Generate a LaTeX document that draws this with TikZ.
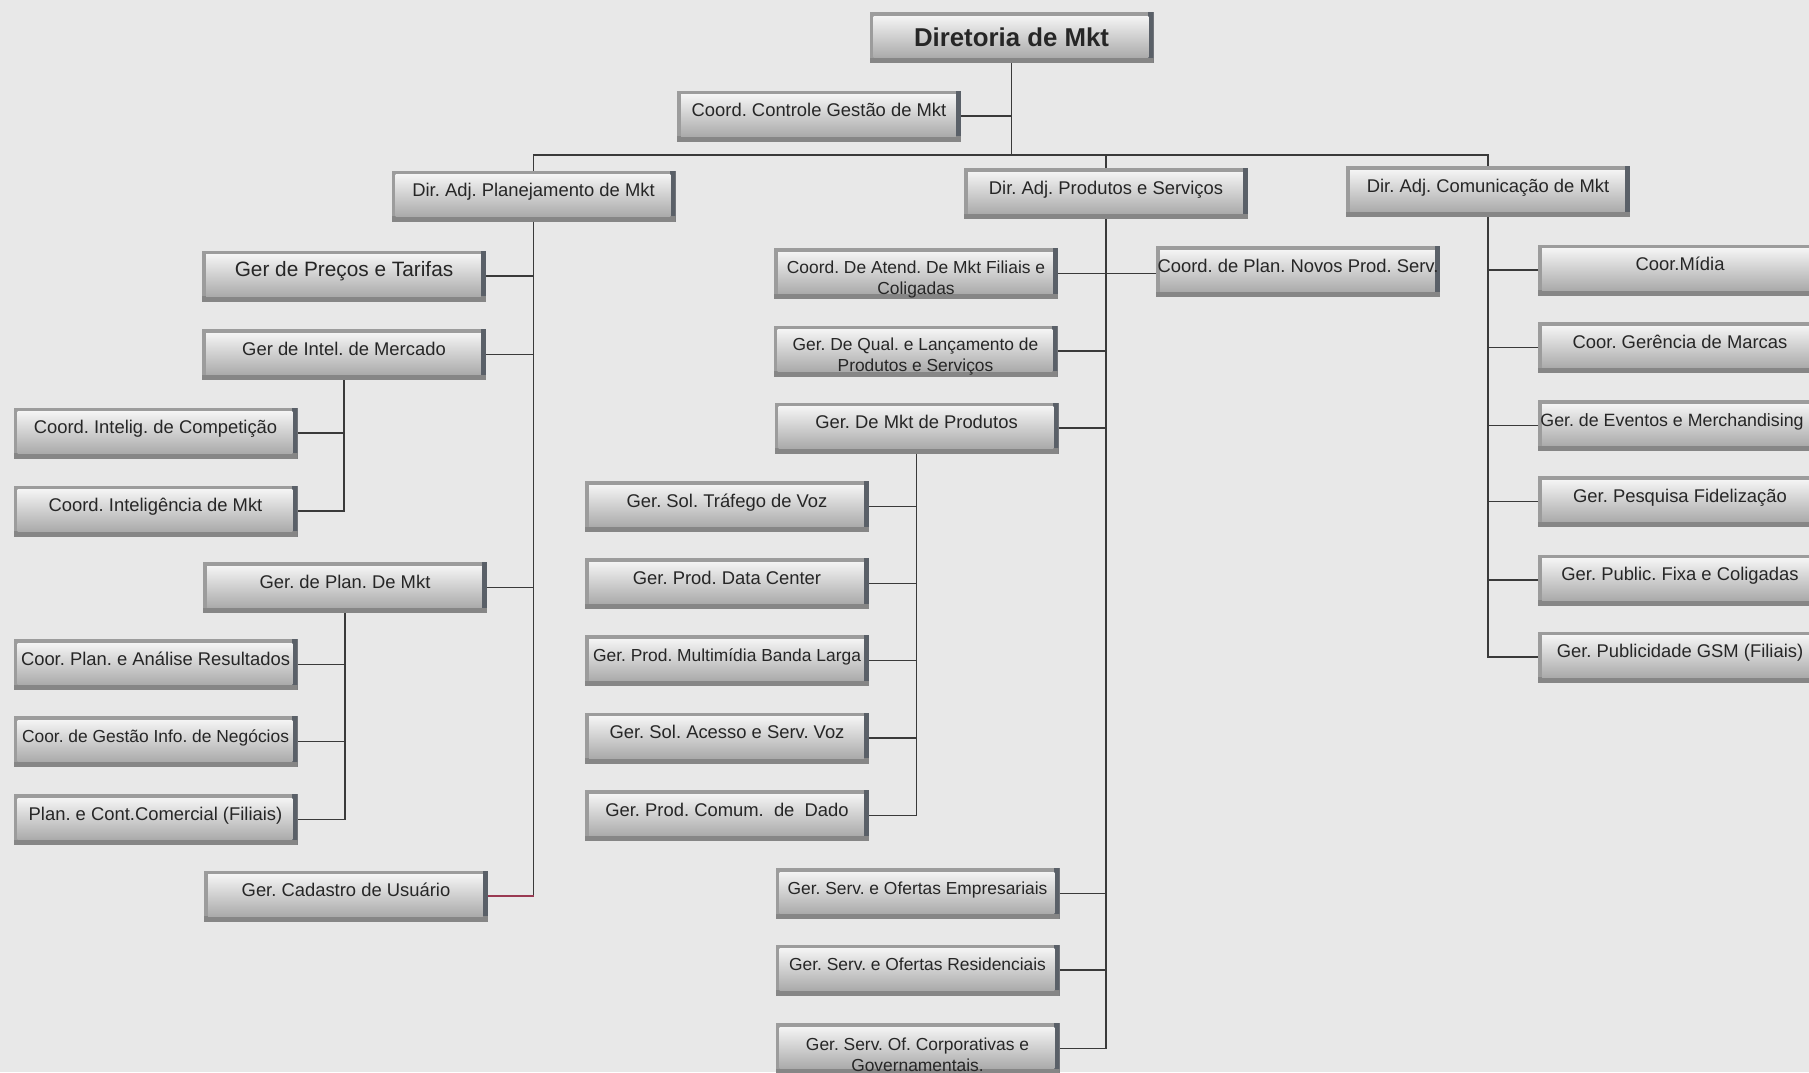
\documentclass[tikz,border=0pt]{standalone}
\usepackage{fontspec}
\setmainfont{Liberation Sans}
\frenchspacing
\definecolor{bgc}{HTML}{E8E8E8}
\definecolor{bevel}{HTML}{9C9C9C}
\definecolor{bevdark}{HTML}{5A6068}
\definecolor{bevbot}{HTML}{868686}
\definecolor{intop}{HTML}{F4F4F4}
\definecolor{inmid}{HTML}{DDDDDD}
\definecolor{inbot}{HTML}{AAAAAA}
\definecolor{txt}{HTML}{262626}
\definecolor{linec}{HTML}{3A3A3A}
\definecolor{linered}{HTML}{9A3A52}
\newcommand\orgfsA{\fontsize{9.2pt}{10.4pt}\selectfont}
\newcommand\orgfsB{\fontsize{8.7pt}{10.4pt}\selectfont}
\newcommand\orgfsC{\fontsize{10.4pt}{12pt}\selectfont}
\newcommand\orgfsD{\fontsize{12.9pt}{15pt}\selectfont\bfseries}
\newcommand\orgfsE{\fontsize{8.9pt}{10.4pt}\selectfont}
\newcommand\orgpush{\rule{0pt}{12.2pt}}
\tikzset{
  orgbase/.style={
    rectangle, minimum width=142pt, minimum height=25.5pt, inner sep=0pt, outer sep=0pt,
    fill=bevel, text=txt, align=center,
    path picture={
      \fill[bevdark] ([xshift=-2.6pt]path picture bounding box.north east) rectangle (path picture bounding box.south east);
      \fill[bevbot] (path picture bounding box.south west) rectangle ([yshift=2.6pt]path picture bounding box.south east);
      \shade[top color=intop, middle color=inmid, bottom color=inbot] ([xshift=2pt,yshift=-2pt]path picture bounding box.north west) rectangle ([xshift=-2.6pt,yshift=2.6pt]path picture bounding box.south east);
    }},
  box/.style={orgbase, font=\orgfsA, text height=7pt, text depth=6.5pt},
  boxs/.style={orgbase, font=\orgfsB, text height=6.8pt, text depth=6.3pt},
  boxe/.style={orgbase, font=\orgfsE, text height=6.9pt, text depth=6.4pt},
  boxbig/.style={orgbase, font=\orgfsC, text height=7.8pt, text depth=7pt},
  boxtop/.style={orgbase, font=\orgfsD},
  boxtwo/.style={orgbase, font=\orgfsB},
  conn/.style={draw=linec, line width=0.8pt},
  connred/.style={draw=linered, line width=0.8pt},
}
\begin{document}
\begin{tikzpicture}[x=0.5pt,y=-0.5pt]
\useasboundingbox (0,0) rectangle (1809,1072);
\clip (0,0) rectangle (1809,1072);
\fill[bgc] (0,0) rectangle (1809,1072);

% top
\node[boxtop] (dir) at (1011.5,37.5) {Diretoria de Mkt};
\node[box] (ccg) at (819,116) {Coord. Controle Gestão de Mkt};
\node[box] (dplan) at (533.5,196) {Dir. Adj. Planejamento de Mkt};
\node[box] (dprod) at (1106,193.5) {Dir. Adj. Produtos e Serviços};
\node[box] (dcom) at (1488,191.5) {Dir. Adj. Comunicação de Mkt};
\coordinate (busL) at (533.5,155);
\coordinate (busR) at (1488,155);

% left column
\node[boxbig] (gpt) at (344,276) {Ger de Preços e Tarifas};
\node[box] (gim) at (344,354.5) {Ger de Intel. de Mercado};
\node[box] (cic) at (155.5,433) {Coord. Intelig. de Competição};
\node[box] (cim) at (155.5,511) {Coord. Inteligência de Mkt};
\node[box] (gpm) at (345,587.5) {Ger. de Plan. De Mkt};
\node[box] (cpa) at (155.5,664.5) {Coor. Plan. e Análise Resultados};
\node[boxs] (cgi) at (155.5,741.5) {Coor. de Gestão Info. de Negócios};
\node[box] (pcc) at (155.5,819.5) {Plan. e Cont.Comercial (Filiais)};
\node[box] (gcu) at (346,896) {Ger. Cadastro de Usuário};

% middle column
\node[boxtwo] (cam) at (916,273.5) {\orgpush Coord. De Atend. De Mkt Filiais e\\Coligadas};
\node[box] (cpn) at (1298,271.5) {Coord. de Plan. Novos Prod. Serv.};
\node[boxtwo] (gql) at (915.5,351) {\orgpush Ger. De Qual. e Lançamento de\\Produtos e Serviços};
\node[box] (gmp) at (916.5,428) {Ger. De Mkt de Produtos};
\node[box] (gst) at (727,506.5) {Ger. Sol. Tráfego de Voz};
\node[box] (gdc) at (727,583.5) {Ger. Prod. Data Center};
\node[boxs] (gmb) at (727,660.5) {Ger. Prod. Multimídia Banda Larga};
\node[box] (gsa) at (727,738) {Ger. Sol. Acesso e Serv. Voz};
\node[box] (gcd) at (727,815.5) {Ger. Prod. Comum.\ \ de\ \ Dado};
\node[boxs] (gse) at (917.5,893.5) {Ger. Serv. e Ofertas Empresariais};
\node[boxs] (gsr) at (917.5,970) {Ger. Serv. e Ofertas Residenciais};
\node[boxtwo] (gsc) at (917.5,1048.5) {\orgpush Ger. Serv. Of. Corporativas e\\Governamentais.};

% right column
\node[box] (cmi) at (1680,270) {Coor.Mídia};
\node[box] (cgm) at (1680,347.5) {Coor. Gerência de Marcas};
\node[boxe] (gem) at (1680,425.5) {Ger. de Eventos e Merchandising\hspace*{8pt}};
\node[box] (gpf) at (1680,501.5) {Ger. Pesquisa Fidelização};
\node[box] (gpx) at (1680,580) {Ger. Public. Fixa e Coligadas};
\node[box] (gsm) at (1680,657) {Ger. Publicidade GSM (Filiais)};

% connectors: top
\draw[conn] (dir.south) -- (dir.south |- busL);
\draw[conn] (ccg.east) -- (ccg.east -| dir.south);
\draw[conn] (dplan.north) -- (busL) -- (busR) -- (dcom.north);
\draw[conn] (dprod.north) -- (dprod.north |- busL);

% left
\draw[conn] (dplan.south) -- (dplan.south |- gcu.east);
\draw[connred] (gcu.east) -- (gcu.east -| dplan.south);
\draw[conn] (gpt.east) -- (gpt.east -| dplan.south);
\draw[conn] (gim.east) -- (gim.east -| dplan.south);
\draw[conn] (gpm.east) -- (gpm.east -| dplan.south);
\draw[conn] (gim.south) -- (gim.south |- cim.east) -- (cim.east);
\draw[conn] (cic.east) -- (cic.east -| gim.south);
\draw[conn] (gpm.south) -- (gpm.south |- pcc.east) -- (pcc.east);
\draw[conn] (cpa.east) -- (cpa.east -| gpm.south);
\draw[conn] (cgi.east) -- (cgi.east -| gpm.south);

% middle
\draw[conn] (dprod.south) -- (dprod.south |- gsc.east) -- (gsc.east);
\draw[conn] (cam.east) -- (cam.east -| cpn.west);
\draw[conn] (gql.east) -- (gql.east -| dprod.south);
\draw[conn] (gmp.east) -- (gmp.east -| dprod.south);
\draw[conn] (gse.east) -- (gse.east -| dprod.south);
\draw[conn] (gsr.east) -- (gsr.east -| dprod.south);
\draw[conn] (gmp.south) -- (gmp.south |- gcd.east) -- (gcd.east);
\draw[conn] (gst.east) -- (gst.east -| gmp.south);
\draw[conn] (gdc.east) -- (gdc.east -| gmp.south);
\draw[conn] (gmb.east) -- (gmb.east -| gmp.south);
\draw[conn] (gsa.east) -- (gsa.east -| gmp.south);

% right
\draw[conn] (dcom.south) -- (dcom.south |- gsm.west) -- (gsm.west);
\draw[conn] (cmi.west) -- (cmi.west -| dcom.south);
\draw[conn] (cgm.west) -- (cgm.west -| dcom.south);
\draw[conn] (gem.west) -- (gem.west -| dcom.south);
\draw[conn] (gpf.west) -- (gpf.west -| dcom.south);
\draw[conn] (gpx.west) -- (gpx.west -| dcom.south);
\end{tikzpicture}
\end{document}
